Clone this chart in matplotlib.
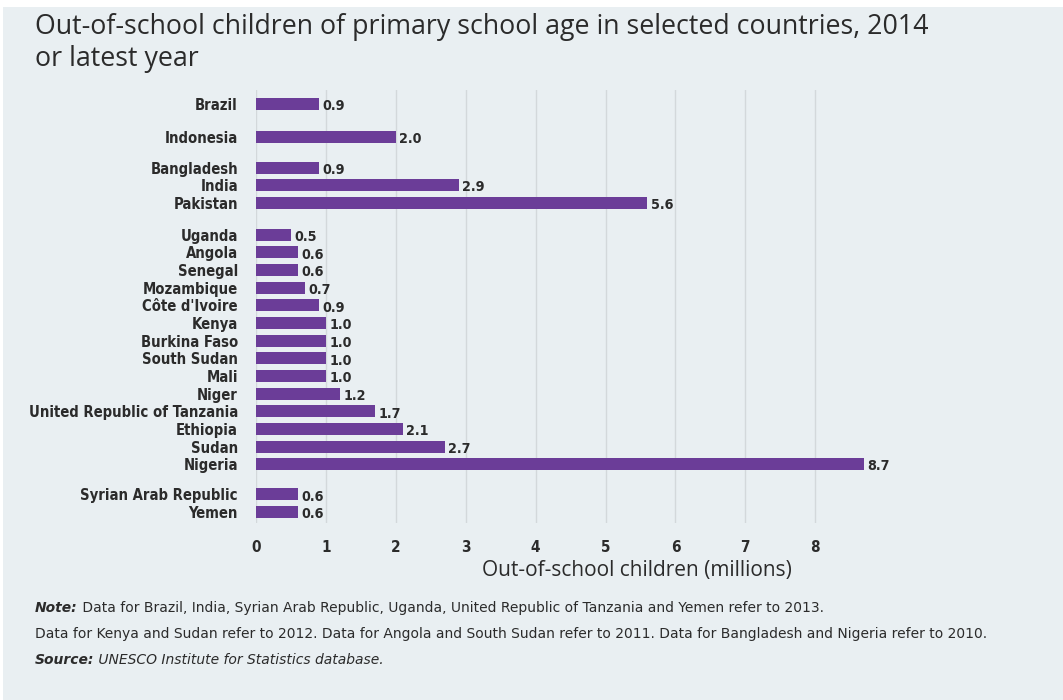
import matplotlib
matplotlib.use("Agg")
import matplotlib.pyplot as plt
from matplotlib.patches import Rectangle
from matplotlib import font_manager as fm

# country groups (top to bottom) and out-of-school children, millions
group_1 = ["Brazil"]
values_1 = [0.9]
group_2 = ["Indonesia"]
values_2 = [2.0]
group_3 = ["Bangladesh", "India", "Pakistan"]
values_3 = [0.9, 2.9, 5.6]
group_4 = ["Uganda", "Angola", "Senegal", "Mozambique", "Côte d'Ivoire", "Kenya",
           "Burkina Faso", "South Sudan", "Mali", "Niger",
           "United Republic of Tanzania", "Ethiopia", "Sudan", "Nigeria"]
values_4 = [0.5, 0.6, 0.6, 0.7, 0.9, 1.0, 1.0, 1.0, 1.0, 1.2, 1.7, 2.1, 2.7, 8.7]
group_5 = ["Syrian Arab Republic", "Yemen"]
values_5 = [0.6, 0.6]
xticks = [0, 1, 2, 3, 4, 5, 6, 7, 8]

groups = [(group_1, values_1), (group_2, values_2), (group_3, values_3),
          (group_4, values_4), (group_5, values_5)]

BG = "#e9eff2"
BAR = "#6b3d98"
TXT = "#2b2b2b"
plt.rcParams["font.family"] = ["DejaVu Sans"]

# narrow face for the labels if one is available
has_cond = any("Condensed" in f.fname and "DejaVuSans" in f.fname
               for f in fm.fontManager.ttflist)
lab_size = 10.6 if has_cond else 9.2

# stack rows, leaving a gap between groups
names, vals, pos = [], [], []
y = 0.0
gaps = [1.86, 1.75, 1.8, 1.7]
for i, (g, v) in enumerate(groups):
    for n, val in zip(g, v):
        names.append(n)
        vals.append(val)
        pos.append(y)
        y += 1
    y -= 1
    if i < len(gaps):
        y += gaps[i]

fig = plt.figure(figsize=(10.63, 7.0), dpi=100)
fig.patch.set_facecolor("white")
fig.patches.append(Rectangle((3 / 1063, 0), 1, 1 - 7 / 700, transform=fig.transFigure,
                             facecolor=BG, edgecolor="none", zorder=-10))

ax = fig.add_axes([256 / 1063, 1 - 523 / 700, (1018 - 256) / 1063, (523 - 90) / 700])
ax.set_facecolor("none")
ax.barh(pos, vals, height=0.68, color=BAR, zorder=3)
for p, v in zip(pos, vals):
    ax.text(v + 0.05, p + 0.12, f"{v:.1f}", va="center", ha="left",
            fontsize=lab_size - 0.3, color=TXT, fontweight="bold",
            fontstretch="condensed")

ax.set_xlim(0, 10.9)
ax.set_ylim(pos[-1] + 0.62, -0.79)
ax.set_xticks(xticks)
ax.set_yticks(pos)
ax.set_yticklabels(names)
ax.tick_params(axis="y", length=0, pad=13, labelcolor=TXT)
ax.tick_params(axis="x", length=0, pad=12, labelsize=11, labelcolor=TXT)
for lab in ax.get_yticklabels():
    lab.set_fontweight("bold")
    lab.set_fontstretch("condensed")
    lab.set_fontsize(lab_size)
for lab in ax.get_xticklabels():
    lab.set_fontweight("bold")
    lab.set_fontstretch("condensed")
for x in xticks:
    ax.axvline(x, color="#d3d8db", lw=1.0, zorder=1)
for s in ax.spines.values():
    s.set_visible(False)
ax.set_xlabel("Out-of-school children (millions)", fontsize=15, color=TXT,
              labelpad=4, x=0.5, family=["Open Sans", "DejaVu Sans"])

fig.text(35 / 1063, 1 - 13 / 700,
         "Out-of-school children of primary school age in selected countries, 2014\nor latest year",
         ha="left", va="top", fontsize=19.3, color=TXT, linespacing=1.2,
         family=["Open Sans", "DejaVu Sans"])

# notes below the chart
fs = 10
t = fig.text(35 / 1063, 1 - 612 / 700, "Note:", fontsize=fs, color=TXT,
             style="italic", fontweight="bold")
ax.annotate(" Data for Brazil, India, Syrian Arab Republic, Uganda, United Republic of Tanzania and Yemen refer to 2013.",
            xy=(1, 0), xycoords=t, va="bottom", fontsize=fs, color=TXT,
            annotation_clip=False)
fig.text(35 / 1063, 1 - 638 / 700,
         "Data for Kenya and Sudan refer to 2012. Data for Angola and South Sudan refer to 2011. Data for Bangladesh and Nigeria refer to 2010.",
         fontsize=fs, color=TXT)
s = fig.text(35 / 1063, 1 - 664 / 700, "Source:", fontsize=fs, color=TXT,
             style="italic", fontweight="bold")
ax.annotate(" UNESCO Institute for Statistics database.", xy=(1, 0), xycoords=s,
            va="bottom", fontsize=fs, color=TXT, style="italic",
            annotation_clip=False)

fig.savefig("out.png", dpi=100, facecolor=fig.get_facecolor())
